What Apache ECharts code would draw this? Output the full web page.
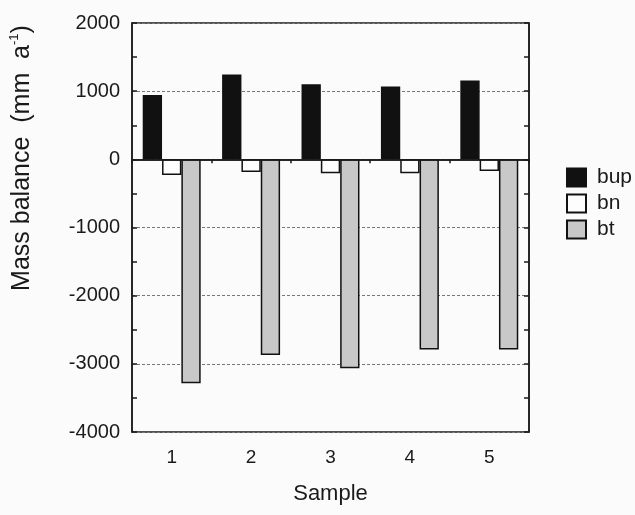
<!DOCTYPE html>
<html>
<head>
<meta charset="utf-8">
<script src="https://cdn.jsdelivr.net/npm/echarts@6/dist/echarts.min.js"></script>
<style>
  html, body { margin: 0; padding: 0; background: #fbfbfb; }
  #chart { width: 635px; height: 515px; }
</style>
</head>
<body>
<div id="chart"></div>
<script>
// values (mm a-1)
const samples = ['1', '2', '3', '4', '5'];
const bup = [945, 1245, 1100, 1070, 1155];
const bn = [-230, -185, -205, -205, -170];
const bt = [-3285, -2870, -3065, -2790, -2790];
const yMin = -4000, yMax = 2000, yStep = 1000;
const zeroLine = 0;

const font = "'Liberation Sans', Arial, sans-serif";
const ink = '#1a1a1a';

const chart = echarts.init(document.getElementById('chart'), null, { renderer: 'canvas' });

const yAxisBase = {
  type: 'value',
  min: yMin,
  max: yMax,
  interval: yStep,
  axisLine: { show: true, lineStyle: { color: ink, width: 1.5 } },
  axisTick: { show: true, inside: true, length: 5, lineStyle: { color: ink, width: 1.5 } },
  minorTick: { show: true, splitNumber: 2, length: 5, lineStyle: { color: ink, width: 1.5 } },
};

chart.setOption({
  backgroundColor: '#fbfbfb',
  animation: false,
  textStyle: { fontFamily: font },
  grid: {
    left: 132, right: 106, top: 23, bottom: 83,
    show: true, borderColor: ink, borderWidth: 1.5, backgroundColor: 'transparent'
  },
  legend: {
    orient: 'vertical',
    left: 561,
    top: 162,
    itemWidth: 19,
    itemHeight: 18,
    itemGap: 5,
    icon: 'rect',
    textStyle: { fontSize: 21, color: ink, fontFamily: font, padding: [0, 0, 0, 6] },
    data: ['bup', 'bn', 'bt']
  },
  xAxis: {
    type: 'category',
    data: samples,
    name: 'Sample',
    nameLocation: 'middle',
    nameGap: 51,
    nameTextStyle: { fontSize: 22, color: ink },
    axisLine: { lineStyle: { color: ink, width: 1.5 } },
    axisTick: { show: true, length: 4, lineStyle: { color: ink, width: 1.5 } },
    axisLabel: { fontSize: 19, color: ink, margin: 16 },
    splitLine: { show: false }
  },
  yAxis: [
    Object.assign({}, yAxisBase, {
      position: 'left',
      axisLabel: { fontSize: 20, color: ink, margin: 12, formatter: v => String(v) },
      splitLine: { show: true, lineStyle: { color: '#777', type: [3, 2], width: 1 } }
    }),
    Object.assign({}, yAxisBase, {
      position: 'right',
      axisLabel: { show: false },
      splitLine: { show: false }
    })
  ],
  graphic: [{
    type: 'text',
    x: 22,
    y: 158,
    rotation: Math.PI / 2,
    style: {
      text: '{a|Mass balance  (mm  a}{s|-1}{a|)}',
      align: 'center',
      verticalAlign: 'middle',
      fill: ink,
      rich: {
        a: { fontSize: 25, fontFamily: font, fill: ink, lineHeight: 28 },
        s: { fontSize: 13, fontFamily: font, fill: ink, verticalAlign: 'top', lineHeight: 28 }
      }
    }
  }],
  series: [
    {
      name: 'bup',
      type: 'bar',
      data: bup,
      barGap: '0%',
      barCategoryGap: '27%',
      itemStyle: { color: '#111', borderColor: '#111', borderWidth: 1.5 },
      markLine: {
        silent: true,
        symbol: 'none',
        label: { show: false },
        lineStyle: { color: ink, type: 'solid', width: 1.5 },
        data: [{ yAxis: zeroLine }]
      }
    },
    {
      name: 'bn',
      type: 'bar',
      data: bn,
      itemStyle: { color: '#fdfdfd', borderColor: '#111', borderWidth: 1.5 }
    },
    {
      name: 'bt',
      type: 'bar',
      data: bt,
      itemStyle: { color: '#c8c8c8', borderColor: '#111', borderWidth: 1.5 }
    }
  ]
});
</script>
</body>
</html>
